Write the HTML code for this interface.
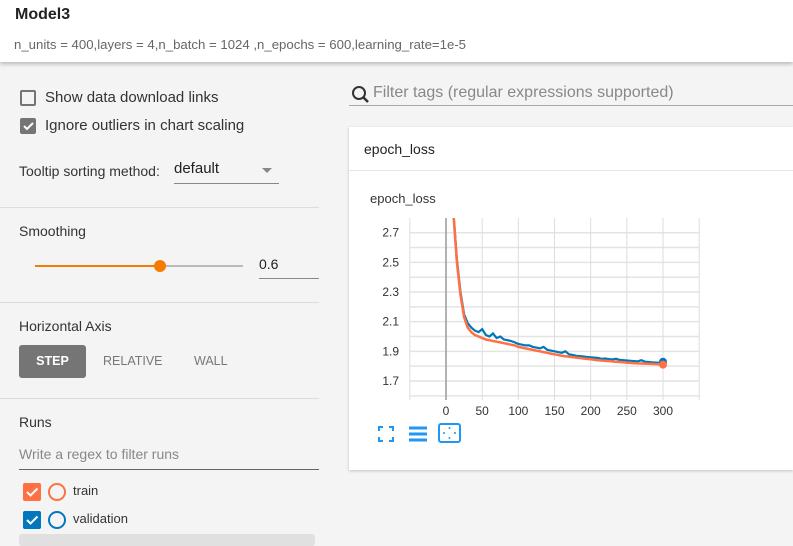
<!DOCTYPE html>
<html><head><meta charset="utf-8">
<style>
body{margin:0;width:793px;height:543px;overflow:hidden;background:#f4f4f4;font-family:"Liberation Sans",sans-serif;position:relative;color:#212121}
.abs{position:absolute}
.hdr{left:0;top:0;width:793px;height:62px;background:#fff;box-shadow:0 2px 4px rgba(0,0,0,.25)}
.div{left:0;width:319px;height:1px;background:#ddd}
.cb{width:16px;height:16px;border:2px solid #757575;border-radius:2px;box-sizing:border-box}
.t14{font-size:14px;color:#333}
</style></head><body>
<div class="abs hdr">
  <div class="abs" style="left:15px;top:6px;font-size:16px;font-weight:bold;color:#222">Model3</div>
  <div class="abs" style="left:14px;top:37px;font-size:13.2px;color:#666">n_units = 400,layers = 4,n_batch = 1024 ,n_epochs = 600,learning_rate=1e-5</div>
</div>

<div class="abs cb" style="left:20px;top:90px"></div>
<div class="abs" style="left:45px;top:89px;font-size:15px;color:#333">Show data download links</div>
<div class="abs cb" style="left:20px;top:118px;background:#757575;border-color:#757575"><svg width="12" height="12" style="position:absolute;left:0;top:0"><path d="M2 6l3 3 6-6" stroke="#fff" stroke-width="2" fill="none"/></svg></div>
<div class="abs" style="left:45px;top:117px;font-size:15px;color:#333">Ignore outliers in chart scaling</div>
<div class="abs t14" style="left:19px;top:163px">Tooltip sorting method:</div>
<div class="abs" style="left:174px;top:160px;width:105px;height:23px;border-bottom:1px solid #888;font-size:15px">default<span style="position:absolute;right:7px;top:8px;border:5px solid transparent;border-top:5px solid #888"></span></div>
<div class="abs div" style="top:207px"></div>

<div class="abs t14" style="left:19px;top:223px">Smoothing</div>
<div class="abs" style="left:35px;top:265px;width:208px;height:2px;background:#bbb"></div>
<div class="abs" style="left:35px;top:265px;width:125px;height:2px;background:#f57c00"></div>
<div class="abs" style="left:154px;top:260px;width:12px;height:12px;border-radius:50%;background:#f57c00"></div>
<div class="abs" style="left:259px;top:256px;width:60px;height:22px;border-bottom:1px solid #888;font-size:14px">0.6</div>
<div class="abs div" style="top:302px"></div>

<div class="abs t14" style="left:19px;top:318px">Horizontal Axis</div>
<div class="abs" style="left:19px;top:345px;width:67px;height:33px;background:#757575;border-radius:3px;color:#fff;font-size:12.5px;font-weight:bold;text-align:center;line-height:33px">STEP</div>
<div class="abs" style="left:103px;top:354px;font-size:12.5px;color:#777">RELATIVE</div>
<div class="abs" style="left:194px;top:354px;font-size:12.5px;color:#777">WALL</div>
<div class="abs div" style="top:398px"></div>

<div class="abs t14" style="left:19px;top:414px">Runs</div>
<div class="abs" style="left:19px;top:446px;width:300px;height:23px;border-bottom:1px solid #666;font-size:14px;color:#888">Write a regex to filter runs</div>
<div class="abs" style="left:23px;top:483px;width:18px;height:18px;background:#ff7043;border-radius:2px"><svg width="18" height="18"><path d="M4 9l3.5 3.5 7-7" stroke="#fff" stroke-width="2" fill="none"/></svg></div>
<div class="abs" style="left:48px;top:483px;width:14px;height:14px;border:2px solid #ff7043;border-radius:50%"></div>
<div class="abs" style="left:73px;top:483px;font-size:13px;color:#333">train</div>
<div class="abs" style="left:23px;top:511px;width:18px;height:18px;background:#0277bd;border-radius:2px"><svg width="18" height="18"><path d="M4 9l3.5 3.5 7-7" stroke="#fff" stroke-width="2" fill="none"/></svg></div>
<div class="abs" style="left:48px;top:511px;width:14px;height:14px;border:2px solid #0277bd;border-radius:50%"></div>
<div class="abs" style="left:73px;top:511px;font-size:13px;color:#333">validation</div>
<div class="abs" style="left:19px;top:534px;width:296px;height:12px;background:#e0e0e0;border-radius:3px"></div>

<svg class="abs" style="left:350px;top:84px" width="22" height="22"><circle cx="9" cy="9" r="6" stroke="#333" stroke-width="2" fill="none"/><path d="M13 13l5 5" stroke="#333" stroke-width="2.5"/></svg>
<div class="abs" style="left:349px;top:84px;width:444px;height:22px;border-bottom:1px solid #aaa;font-size:16px;color:#888;padding-left:24px;box-sizing:border-box">Filter tags (regular expressions supported)</div>

<div class="abs" style="left:349px;top:127px;width:444px;height:343px;background:#fff;box-shadow:0 1px 3px rgba(0,0,0,.2)">
  <div class="abs" style="left:15px;top:14px;font-size:14px;color:#222">epoch_loss</div>
  <div class="abs" style="left:0;top:43px;width:444px;height:1px;background:#e5e5e5"></div>
  <div class="abs" style="left:21px;top:64px;font-size:13px;color:#333">epoch_loss</div>
</div>

<svg id="chart" class="abs" style="left:0;top:0" width="793" height="543"></svg>

<script>
const steps=[10,15,20,25,30,35,40,45,50,55,60,65,70,75,80,85,90,95,100,105,110,115,120,125,130,135,140,145,150,155,160,165,170,175,180,185,190,195,200,205,210,215,220,225,230,235,240,245,250,255,260,265,270,275,280,285,290,295,300];
const trainLoss=[2.85,2.5,2.28,2.13,2.06,2.03,2.01,2.0,1.99,1.98,1.975,1.97,1.965,1.96,1.955,1.95,1.945,1.94,1.93,1.925,1.92,1.915,1.91,1.905,1.9,1.895,1.89,1.885,1.88,1.875,1.87,1.867,1.864,1.861,1.858,1.855,1.852,1.849,1.846,1.843,1.84,1.838,1.836,1.834,1.832,1.83,1.828,1.826,1.824,1.822,1.82,1.819,1.818,1.817,1.816,1.815,1.814,1.813,1.81];
const valLoss=[2.86,2.52,2.3,2.15,2.09,2.06,2.04,2.03,2.05,2.01,2.0,2.02,1.99,2.0,1.98,1.975,1.97,1.96,1.95,1.945,1.94,1.94,1.93,1.925,1.92,1.93,1.91,1.905,1.9,1.895,1.89,1.9,1.88,1.875,1.87,1.868,1.865,1.862,1.86,1.858,1.855,1.85,1.852,1.848,1.845,1.85,1.842,1.84,1.838,1.836,1.834,1.832,1.84,1.83,1.828,1.826,1.824,1.822,1.83];
const xTicks=[0,50,100,150,200,250,300];
const yTicks=[1.7,1.9,2.1,2.3,2.5,2.7];
const X0=410,X1=699,Y0=218,Y1=396;
const xs=v=>446+(v-0)*(663-446)/300;
const ys=v=>381-(v-1.7)*148.3;
const svg=document.getElementById('chart');
const NS='http://www.w3.org/2000/svg';
function mk(t,a){const e=document.createElementNS(NS,t);for(const k in a)e.setAttribute(k,a[k]);svg.appendChild(e);return e;}
const clip=mk('clipPath',{id:'cp'});const cr=document.createElementNS(NS,'rect');cr.setAttribute('x',X0);cr.setAttribute('y',Y0);cr.setAttribute('width',X1-X0);cr.setAttribute('height',Y1-Y0);clip.appendChild(cr);
for(let v=1.6;v<=2.81;v+=0.1){const y=ys(v);if(y<Y0||y>Y1)continue;const g=mk('line',{x1:X0,x2:X1,y1:y,y2:y,stroke:'#e4e4e4','stroke-width':1.5});

}
for(let v=-50;v<=350;v+=50){const x=xs(v);const g=mk('line',{x1:x,x2:x,y1:Y0,y2:Y1+4,stroke:v===0?'#999':'#ddd','stroke-width':v===0?1.5:1});

}
yTicks.forEach(v=>{const t=mk('text',{x:399,y:ys(v)+4,'text-anchor':'end','font-size':12,fill:'#333','font-family':'Liberation Sans'});t.textContent=v.toFixed(1);

});
xTicks.forEach(v=>{const t=mk('text',{x:xs(v),y:415,'text-anchor':'middle','font-size':12,fill:'#333','font-family':'Liberation Sans'});t.textContent=v;

});
function line(vals,color,w,name){const d=vals.map((v,i)=>(i?'L':'M')+xs(steps[i]).toFixed(1)+','+ys(v).toFixed(1)).join('');
const p=mk('path',{d,stroke:color,'stroke-width':w,fill:'none','clip-path':'url(#cp)'});

}
line(valLoss,'#0077bb',2.2,'validation-line');
line(trainLoss,'#ff7043',2.5,'train-line');
const n=steps.length-1;
const d1=mk('circle',{cx:xs(steps[n]),cy:ys(valLoss[n]),r:4,fill:'#0077bb'});


const d2=mk('circle',{cx:xs(steps[n]),cy:ys(trainLoss[n]),r:4,fill:'#ff7043'});


</script>

<svg class="abs" style="left:378px;top:426px" width="16" height="16"><path d="M1 5V1h4M11 1h4v4M15 11v4h-4M5 15H1v-4" stroke="#2196f3" stroke-width="2" fill="none"/></svg>
<svg class="abs" style="left:408px;top:425px" width="20" height="18"><path d="M1 3h18M1 9h18M1 15h18" stroke="#2196f3" stroke-width="3"/></svg>
<svg class="abs" style="left:438px;top:423px" width="24" height="21"><rect x="1" y="1" width="21" height="18" rx="2" stroke="#2196f3" stroke-width="2" fill="none"/><circle cx="11.5" cy="5" r="1" fill="#2196f3"/><circle cx="11.5" cy="15" r="1" fill="#2196f3"/><circle cx="6" cy="10" r="1" fill="#2196f3"/><circle cx="17" cy="10" r="1" fill="#2196f3"/></svg>
</body></html>
